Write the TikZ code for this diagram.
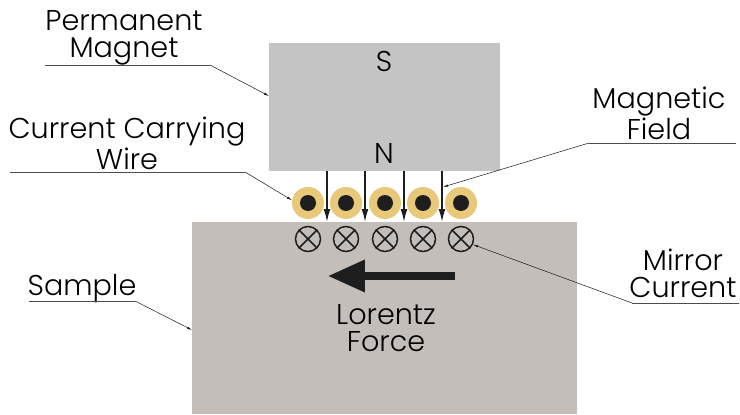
\documentclass[tikz,border=0pt]{standalone}
\usepackage{fontspec}
\setmainfont{Poppins Light}
\usetikzlibrary{arrows.meta}
\definecolor{mmagnet}{HTML}{C4C4C4}
\definecolor{msample}{HTML}{C3BEBA}
\definecolor{mwire}{HTML}{E8C97A}
\definecolor{mdark}{HTML}{1E1E1E}
\tikzset{
  block/.style = {inner sep = 0, anchor = north west},
  label/.style = {align = center, inner sep = 0, text = black, font = \fontsize{16.3}{15.5}\selectfont},
  wire/.style = {circle, inner sep = 0, minimum size = 0.64cm, fill = mwire},
  core/.style = {circle, inner sep = 0, minimum size = 0.32cm, fill = mdark},
  mirror/.style = {circle, inner sep = 0, minimum size = 0.5cm, draw = mdark, line width = 0.85pt},
  field/.style = {mdark, line width = 0.9pt, -{Latex[length = 0.26cm, width = 0.14cm]}},
  leader/.style = {mdark, line width = 0.3pt, -{Latex[length = 0.1cm, width = 0.05cm]}},
  rule/.style = {line width = 0.4pt, black!70}
}

\begin{document}
\begin{tikzpicture}[x = 0.02cm, y = -0.02cm]
      \useasboundingbox (0, 0) rectangle (740, 415);

      \node [block, fill = mmagnet, minimum width = 4.62cm, minimum height = 2.56cm] (magnet) at (269, 43) {};
      \node [block, fill = msample, minimum width = 7.7cm, minimum height = 3.84cm] (sample) at (192, 222) {};

      \foreach \i/\x in {1/308, 2/346, 3/385, 4/423, 5/461} {
        \node [wire] (wire\i) at (\x, 203) {};
        \node [core] (core\i) at (\x, 203) {};
        \node [mirror] (mirror\i) at (\x, 239) {};
        \draw [mdark, line width = 0.85pt] (mirror\i.north west) -- (mirror\i.south east);
        \draw [mdark, line width = 0.85pt] (mirror\i.north east) -- (mirror\i.south west);
      }
      \foreach \i/\x in {1/327, 2/365, 3/404, 4/442} {
        \coordinate (top\i) at (\x, 171);
        \coordinate (tip\i) at (\x, 222);
        \draw [field] (top\i) -- (tip\i);
      }

      \coordinate (forcestart) at (455, 276);
      \coordinate (forceend) at (328, 276);
      \draw [mdark, line width = 4pt, -{Triangle[length = 0.74cm, width = 0.62cm]}] (forcestart) -- (forceend);

      \node [font = \fontsize{16.3}{15.5}\selectfont] (south) at (384, 61) {S};
      \node [font = \fontsize{16.3}{15.5}\selectfont] (north) at (384, 153) {N};

      \node [label] (permanent) at (124, 38) {Permanent\\Magnet};
      \node [label] (carrying) at (127, 143) {Current Carrying\\Wire};
      \node [label] (field) at (659, 113) {Magnetic\\Field};
      \node [label] (current) at (683, 273) {Mirror\\Current};
      \node [label] (samplelabel) at (82, 289) {Sample};
      \node [label] (lorentz) at (386, 328) {Lorentz\\Force};

      % leaders
      \coordinate (a1) at (45, 65);
      \coordinate (a2) at (210, 65);
      \coordinate (a3) at (269, 96);
      \draw [rule] (a1) -- (a2);
      \draw [leader] (a2) -- (a3);

      \coordinate (b1) at (10, 172);
      \coordinate (b2) at (245, 172);
      \draw [rule] (b1) -- (b2);
      \draw [leader] (b2) -- (wire1.170);

      \coordinate (c1) at (736, 143);
      \coordinate (c2) at (589, 143);
      \coordinate (c3) at (443, 187);
      \draw [rule] (c1) -- (c2);
      \draw [leader] (c2) -- (c3);

      \coordinate (d1) at (739, 303);
      \coordinate (d2) at (632, 303);
      \draw [rule] (d1) -- (d2);
      \draw [leader] (d2) -- (mirror5.335);

      \coordinate (e1) at (29, 301);
      \coordinate (e2) at (135, 301);
      \coordinate (e3) at (192, 330);
      \draw [rule] (e1) -- (e2);
      \draw [leader] (e2) -- (e3);
    \end{tikzpicture}
\end{document}
